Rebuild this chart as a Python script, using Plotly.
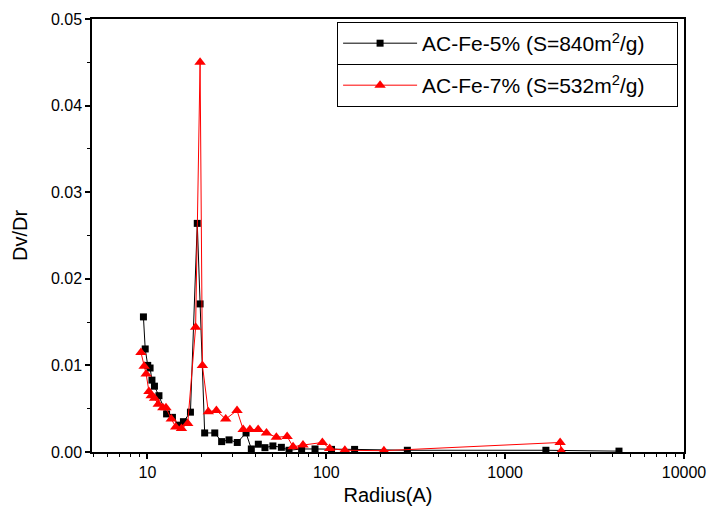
import plotly.graph_objects as go
import numpy as np

# AC-Fe-5% series
r5 = [9.5, 9.72, 10.04, 10.35, 10.6, 10.95, 11.6, 12.8, 13.8, 15.0, 15.9, 17.4,
      19.0, 19.7, 20.9, 23.8, 26.0, 28.6, 31.8, 35.6, 38.1, 41.7, 45.4, 50.3,
      56.1, 61.9, 72.8, 86.5, 107, 144, 284, 1690, 4330]
d5 = [0.0156, 0.0119, 0.0100, 0.0097, 0.0083, 0.0076, 0.0065, 0.0044, 0.0040,
      0.0031, 0.0035, 0.0046, 0.0264, 0.0171, 0.0022, 0.0022, 0.0012, 0.0014,
      0.0011, 0.0022, 0.00035, 0.0009, 0.0005, 0.0007, 0.00054, 0.0002, 0.00035,
      0.00035, 0.0003, 0.0003, 0.0002, 0.0002, 0.0001]

# AC-Fe-7% series
r7 = [9.2, 9.59, 9.84, 10.2, 10.5, 10.97, 11.5, 12.2, 12.7, 13.6, 14.4, 15.5,
      16.8, 18.6, 19.7, 20.3, 21.9, 24.3, 27.4, 31.7, 34.3, 37.4, 41.6, 46.3,
      52.6, 60.4, 65.2, 74.1, 95.1, 104.5, 127, 210, 2030, 2060]
d7 = [0.0115, 0.0099, 0.0090, 0.0070, 0.0065, 0.0062, 0.0055, 0.0051, 0.0051,
      0.0038, 0.0029, 0.0027, 0.0033, 0.0144, 0.0450, 0.0100, 0.00465, 0.0048,
      0.0038, 0.0048, 0.0026, 0.0026, 0.0026, 0.0022, 0.0017, 0.0018, 0.0006,
      0.0008, 0.0011, 0.0004, 0.0002, 0.00015, 0.0011, 0.0001]

name5 = "AC-Fe-5% (S=840m<sup>2</sup>/g)"
name7 = "AC-Fe-7% (S=532m<sup>2</sup>/g)"

x_major = [10, 100, 1000, 10000]
x_labels = ["10", "100", "1000", "10000"]
y_major = [0, 0.01, 0.02, 0.03, 0.04, 0.05]

x_minor = [m * 10 ** e for e in range(0, 4) for m in range(2, 10) if 5 <= m * 10 ** e <= 10000]

FONT = "Liberation Sans, Arial, sans-serif"

fig = go.Figure()
fig.add_trace(go.Scatter(
    x=r5, y=d5, name=name5, mode="lines+markers",
    line=dict(color="black", width=1),
    marker=dict(symbol="square", size=7, color="black"),
    legend="legend", showlegend=True,
))
fig.add_trace(go.Scatter(
    x=r7, y=d7, name=name7, mode="lines+markers",
    line=dict(color="red", width=1),
    marker=dict(symbol="triangle-up", size=10, color="red"),
    legend="legend2", showlegend=True,
))

axis_common = dict(
    showline=True, linecolor="black", linewidth=1.5, mirror=True,
    ticks="outside", ticklen=5, tickwidth=1.5, tickcolor="black",
    showgrid=False, zeroline=False, automargin=False,
    tickfont=dict(family=FONT, size=16, color="black"),
)

fig.update_xaxes(
    type="log", range=[np.log10(4.9), 4],
    tickvals=x_major, ticktext=x_labels,
    minor=dict(tickvals=x_minor, ticklen=3, tickwidth=1.2, tickcolor="black", ticks="outside", showgrid=False),
    title=dict(text="Radius(A)", font=dict(family=FONT, size=20, color="black"), standoff=8),
    **axis_common,
)
fig.update_yaxes(
    range=[0, 0.05], tickvals=y_major, tickformat=".2f",
    minor=dict(dtick=0.005, ticklen=3, tickwidth=1.2, tickcolor="black", ticks="outside", showgrid=False),
    title=dict(text="Dv/Dr", font=dict(family=FONT, size=20, color="black"), standoff=18),
    **axis_common,
)

leg_common = dict(
    bgcolor="white", bordercolor="black", borderwidth=1,
    font=dict(family=FONT, size=21, color="black"),
    xanchor="right", yanchor="top", itemwidth=74,
    orientation="h", entrywidthmode="pixels", entrywidth=250,
)

fig.update_layout(
    width=711, height=523,
    margin=dict(l=92, r=27, t=19, b=71),
    paper_bgcolor="white", plot_bgcolor="white",
    font=dict(family=FONT, color="black"),
    legend=dict(x=0.99, y=0.993, **leg_common),
    legend2=dict(x=0.99, y=0.896, **leg_common),
)

fig.write_html(
    "out.html",
    config={"displayModeBar": False},
    post_script="document.body.style.margin='0';document.body.style.overflow='hidden';",
)
